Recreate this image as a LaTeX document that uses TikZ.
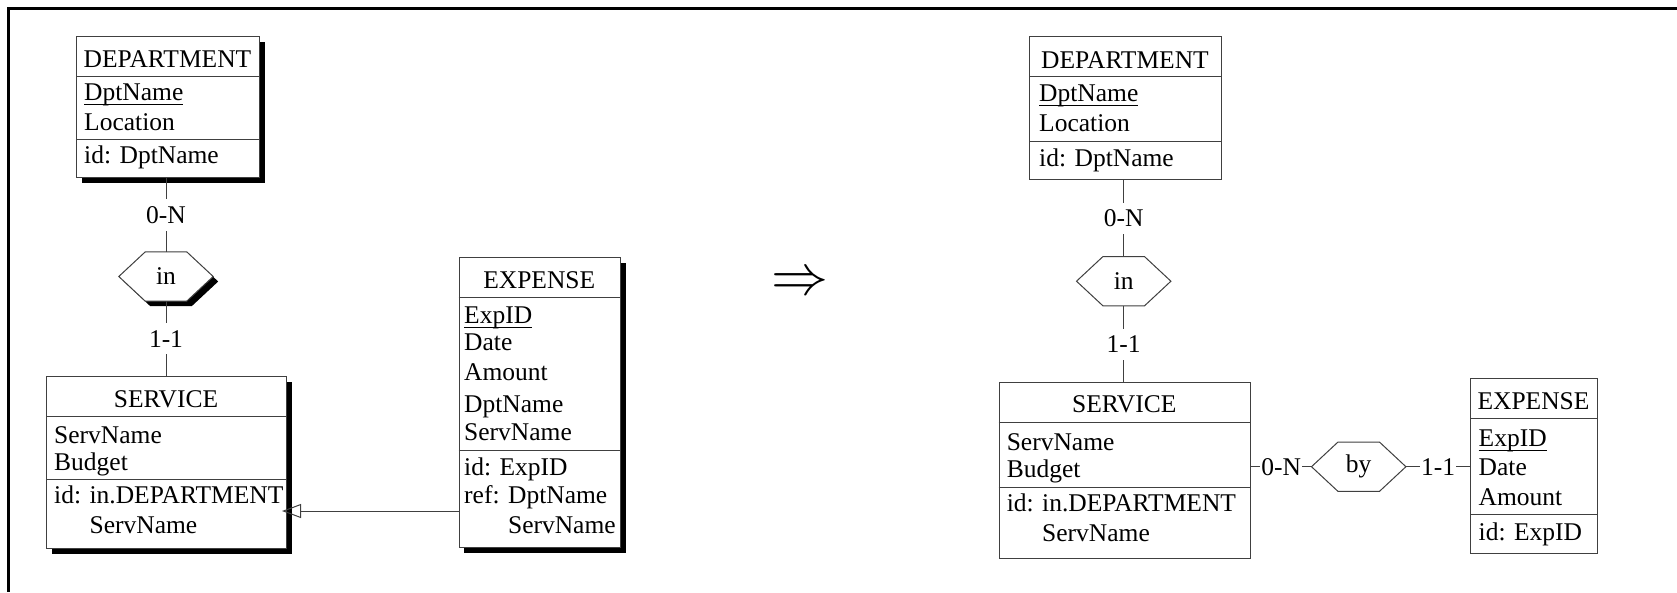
\documentclass[tikz,border=0pt]{standalone}
\usepackage{fontspec}
\setmainfont{Liberation Serif}
\usepackage{graphicx}
\usetikzlibrary{arrows.meta,
                shadows,
                positioning}
\newcommand{\relhex}[2][]{%
	\draw[rel,#1] (#2.west) -- ([xshift=26.5pt]#2.north west)
		-- ([xshift=-26.5pt]#2.north east) -- (#2.east)
		-- ([xshift=-26.5pt]#2.south east) -- ([xshift=26.5pt]#2.south west) -- cycle;}
\newcommand{\keyattr}[1]{\setbox0\hbox{#1}\rlap{\rule[-4.5pt]{\wd0}{1pt}}\box0}

\begin{document}
\begin{tikzpicture}[
			x=1pt, y=-1pt,
			every node/.style = {font=\fontsize{25.5}{30}\selectfont},
			entity/.style = {draw=black!75, line width=1pt, fill=white, inner sep=0pt, anchor=north west},
			shadowed/.style = {drop shadow={shadow xshift=5pt, shadow yshift=-5pt, opacity=1, fill=black}},
			relbox/.style = {minimum width=94pt, minimum height=49pt, inner sep=0pt},
			rel/.style = {draw=black!75, line width=1pt, fill=white},
			title/.style = {anchor=base, inner sep=0pt},
			attr/.style = {anchor=base west, inner sep=0pt},
			sep/.style = {draw=black!75, line width=1pt},
			link/.style = {draw=black!75, line width=1pt},
			card/.style = {fill=white, inner xsep=1pt, inner ysep=7pt},
			]
			\useasboundingbox (0,0) rectangle (1677,592);
			\draw[line width=3pt] (1677,8) -- (8,8) -- (8,592);
			% left schema
			\node[entity, shadowed, minimum width=183pt, minimum height=141pt] (deptL) at (76,36) {};
			\draw[sep] (76,76) -- (259,76);
			\draw[sep] (76,139) -- (259,139);
			\node[title] (deptLt) at (167.5,67) {DEPARTMENT};
			\node[attr] (deptLa1) at (84,100) {\keyattr{DptName}};
			\node[attr] (deptLa2) at (84,130) {Location};
			\node[attr] (deptLa3) at (84,163) {id: DptName};

			\node[relbox] (inL) at (166,276.5) {};
			\relhex[shadowed]{inL}
			\node (inLt) at (inL) {in};

			\node[entity, shadowed, minimum width=240pt, minimum height=172pt] (servL) at (46,376) {};
			\draw[sep] (46,416) -- (286,416);
			\draw[sep] (46,479) -- (286,479);
			\node[title] (servLt) at (166,407) {SERVICE};
			\node[attr] (servLa1) at (54,443) {ServName};
			\node[attr] (servLa2) at (54,470) {Budget};
			\node[attr] (servLa3) at (54,503) {id: in.DEPARTMENT};
			\node[attr] (servLa4) at (54,533) {\phantom{id: }ServName};

			\node[entity, shadowed, minimum width=161.5pt, minimum height=290pt] (expL) at (458.5,257) {};
			\draw[sep] (458.5,297) -- (620,297);
			\draw[sep] (458.5,450) -- (620,450);
			\node[title] (expLt) at (539.25,288) {EXPENSE};
			\node[attr] (expLa1) at (464,323) {\keyattr{ExpID}};
			\node[attr] (expLa2) at (464,350) {Date};
			\node[attr] (expLa3) at (464,380) {Amount};
			\node[attr] (expLa4) at (464,412) {DptName};
			\node[attr] (expLa5) at (464,440) {ServName};
			\node[attr] (expLa6) at (464,475) {id: ExpID};
			\node[attr] (expLa7) at (464,503) {ref: DptName};
			\node[attr] (expLa8) at (464,533) {\phantom{ref: }ServName};
			% edges left
			\coordinate (refpt) at (0,511);
			\draw[link] (inL.north |- deptL.south) -- node[card] (cardL1) {0-N} (inL.north);
			\draw[link] (inL.south) -- node[card] (cardL2) {1-1} (inL.south |- servL.north);
			\draw[link, -{Triangle[open, length=19pt, width=14pt]}, shorten >=-5pt]
				(expL.west |- refpt) -- (servL.east |- refpt);
			% transformation
			\node[font=\fontsize{10}{12}\selectfont] (implies) at (800,284) {\scalebox{5.7}{$\Rightarrow$}};
			% right schema
			\node[entity, minimum width=192pt, minimum height=143.3pt] (deptR) at (1029,36) {};
			\draw[sep] (1029,76.7) -- (1221,76.7);
			\draw[sep] (1029,141.7) -- (1221,141.7);
			\node[title] (deptRt) at (1125,68.3) {DEPARTMENT};
			\node[attr] (deptRa1) at (1039,101.7) {\keyattr{DptName}};
			\node[attr] (deptRa2) at (1039,131.7) {Location};
			\node[attr] (deptRa3) at (1039,166.7) {id: DptName};

			\node[relbox] (inR) at (1123.7,281.2) {};
			\relhex{inR}
			\node (inRt) at (inR) {in};

			\node[entity, minimum width=251.3pt, minimum height=175.4pt] (servR) at (998.7,382.3) {};
			\draw[sep] (998.7,422.3) -- (1250,422.3);
			\draw[sep] (998.7,487) -- (1250,487);
			\node[title] (servRt) at (1124.3,412.7) {SERVICE};
			\node[attr] (servRa1) at (1006.6,450) {ServName};
			\node[attr] (servRa2) at (1006.6,477.3) {Budget};
			\node[attr] (servRa3) at (1006.6,511.7) {id: in.DEPARTMENT};
			\node[attr] (servRa4) at (1006.6,541.7) {\phantom{id: }ServName};

			\node[relbox] (byR) at (1358.7,466.7) {};
			\relhex{byR}
			\node (byRt) at (byR) {by};

			\node[entity, minimum width=126.5pt, minimum height=175.6pt] (expR) at (1470.2,377.7) {};
			\draw[sep] (1470.2,418.3) -- (1596.7,418.3);
			\draw[sep] (1470.2,514) -- (1596.7,514);
			\node[title] (expRt) at (1533.5,409) {EXPENSE};
			\node[attr] (expRa1) at (1478.5,446.7) {\keyattr{ExpID}};
			\node[attr] (expRa2) at (1478.5,475) {Date};
			\node[attr] (expRa3) at (1478.5,505) {Amount};
			\node[attr] (expRa4) at (1478.5,540) {id: ExpID};
			% edges right
			\draw[link] (inR.north |- deptR.south) -- node[card] (cardR1) {0-N} (inR.north);
			\draw[link] (inR.south) -- node[card] (cardR2) {1-1} (inR.south |- servR.north);
			\draw[link] (servR.east |- byR.west) -- node[card] (cardR3) {0-N} (byR.west);
			\draw[link] (byR.east) -- node[card] (cardR4) {1-1} (byR.east -| expR.west);
		\end{tikzpicture}
\end{document}
